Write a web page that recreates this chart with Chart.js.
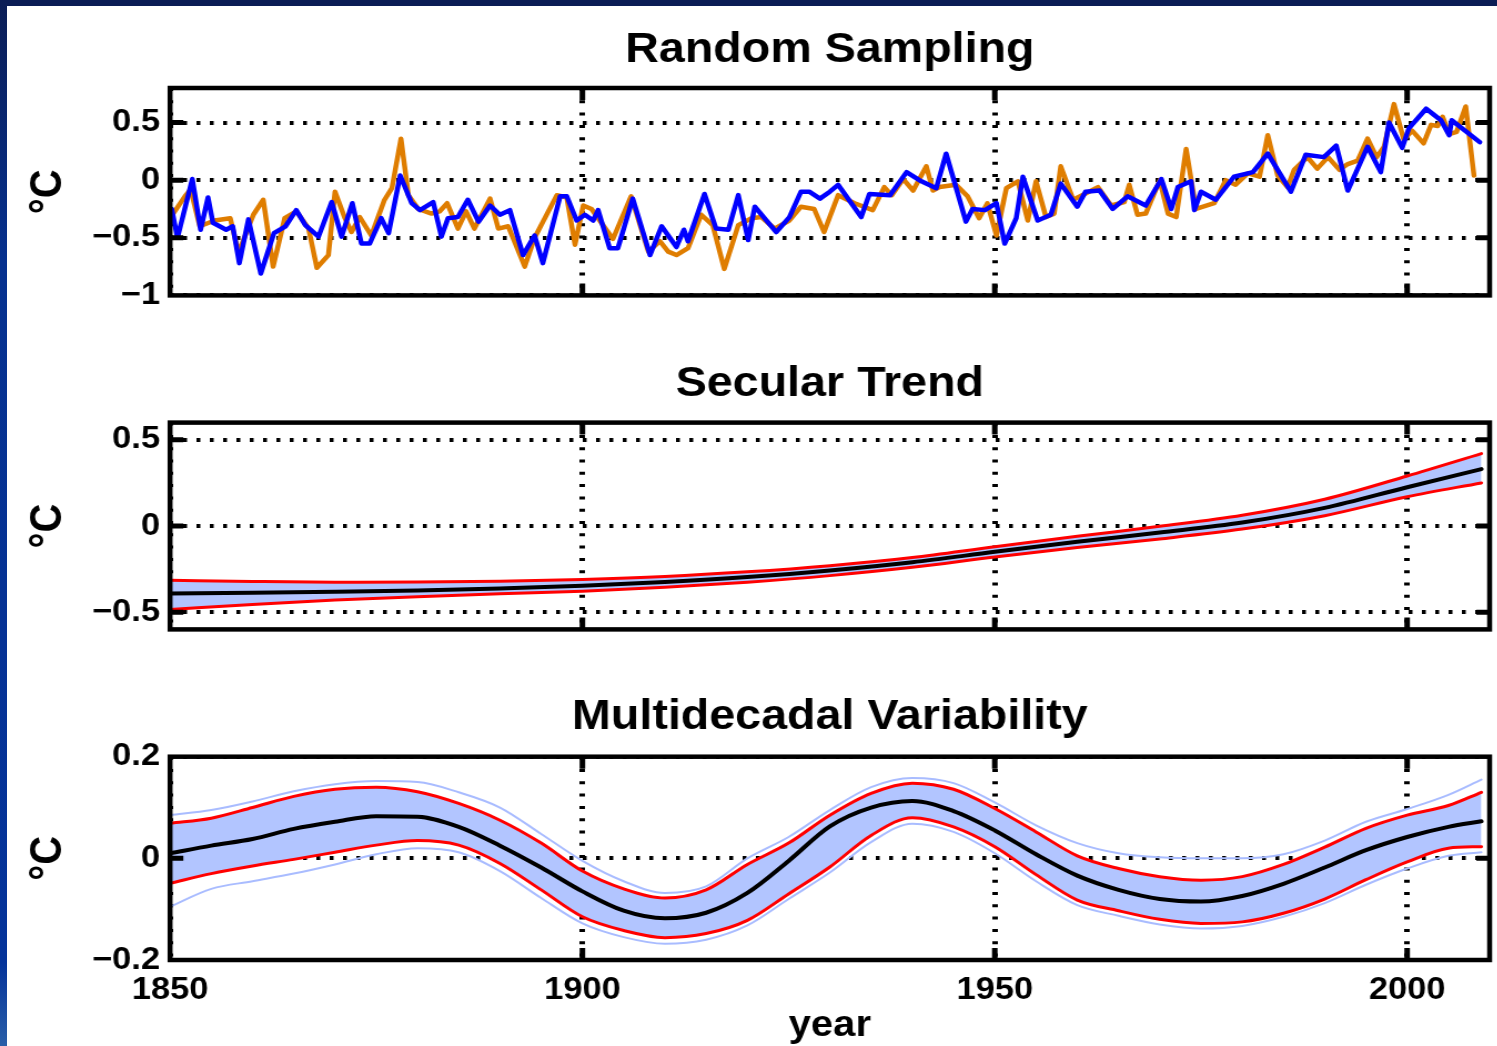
<!DOCTYPE html>
<html>
<head>
<meta charset="utf-8">
<script src="https://cdn.jsdelivr.net/npm/chart.js@4/dist/chart.umd.min.js"></script>
<style>
  html, body { margin: 0; padding: 0; background: #fff; }
  #page { position: relative; width: 1497px; height: 1046px; overflow: hidden; background: #fff; }
  #topbar { position: absolute; left: 0; top: 0; width: 1497px; height: 6px; background: #0b1d55; }
  #leftbar { position: absolute; left: 0; top: 0; width: 7px; height: 1046px;
             background: linear-gradient(#0b1d55, #06318f 25%, #04339a 92%, #2a5fa8); }
  .panel { position: absolute; left: 0; width: 1349px; transform: scaleX(1.11); transform-origin: 0 0; }
  canvas { display: block; }
</style>
</head>
<body>
<div id="page">
  <div id="topbar"></div>
  <div id="leftbar"></div>
  <div class="panel" style="top:0px"><canvas id="sampling" width="1349" height="325"></canvas></div>
  <div class="panel" style="top:330px"><canvas id="trend" width="1349" height="330"></canvas></div>
  <div class="panel" style="top:660px"><canvas id="variability" width="1349" height="386"></canvas></div>
</div>
<script>
// ---- axis ticks ----
const yearTicks = [1850, 1900, 1950, 2000];
const samplingTicks = [-1, -0.5, 0, 0.5];
const trendTicks = [-0.5, 0, 0.5];
const variabilityTicks = [-0.2, 0, 0.2];

// ---- Random Sampling: observed annual anomalies (orange) ----
const obsYears = [1850.2,1851.8,1852.5,1853.6,1855.4,1857.3,1858.3,1860.1,1861.3,1862.5,1863.9,1865.3,1866.8,1867.8,1869.2,1870.0,1871.2,1872.0,1873.0,1874.4,1876.0,1876.9,1878.0,1878.9,1880.1,1881.7,1882.7,1883.6,1884.9,1885.9,1886.9,1888.8,1889.8,1891.0,1893.0,1894.2,1896.9,1898.1,1899.1,1900.1,1901.1,1903.7,1905.9,1908.0,1909.4,1910.4,1911.4,1912.8,1914.4,1915.8,1917.2,1918.9,1920.5,1921.7,1923.3,1925.1,1926.5,1928.1,1929.3,1931.0,1933.0,1935.2,1936.6,1937.5,1938.9,1940.1,1941.7,1942.5,1943.3,1945.3,1946.7,1948.1,1949.1,1950.2,1951.4,1952.8,1954.0,1955.0,1956.2,1957.2,1958.0,1959.5,1960.9,1962.5,1964.1,1965.7,1966.3,1967.3,1968.3,1970.0,1971.0,1972.0,1973.2,1974.4,1976.6,1978.0,1979.2,1980.7,1982.1,1983.1,1984.3,1985.5,1986.3,1987.9,1989.1,1990.4,1991.8,1992.8,1994.0,1995.2,1996.3,1997.2,1998.4,1999.6,2000.6,2002.0,2002.9,2003.7,2004.3,2005.1,2006.0,2007.1,2008.1];
const obsTemps = [-0.31,-0.14,-0.08,-0.40,-0.35,-0.33,-0.63,-0.30,-0.17,-0.75,-0.33,-0.27,-0.42,-0.76,-0.65,-0.10,-0.33,-0.45,-0.32,-0.48,-0.17,-0.07,0.36,-0.13,-0.25,-0.29,-0.27,-0.20,-0.42,-0.27,-0.42,-0.16,-0.42,-0.40,-0.75,-0.50,-0.13,-0.15,-0.56,-0.22,-0.25,-0.51,-0.14,-0.62,-0.53,-0.62,-0.65,-0.59,-0.30,-0.39,-0.77,-0.39,-0.33,-0.32,-0.42,-0.35,-0.23,-0.25,-0.45,-0.13,-0.20,-0.26,-0.06,-0.13,0.01,-0.09,0.12,-0.09,-0.06,-0.04,-0.14,-0.33,-0.20,-0.48,-0.07,-0.01,-0.35,-0.01,-0.32,-0.29,0.12,-0.17,-0.12,-0.06,-0.22,-0.19,-0.04,-0.30,-0.29,0.00,-0.29,-0.32,0.27,-0.25,-0.20,0.00,-0.04,0.06,0.03,0.39,0.04,-0.06,0.09,0.20,0.10,0.20,0.09,0.14,0.17,0.36,0.20,0.29,0.66,0.35,0.43,0.32,0.48,0.47,0.55,0.40,0.42,0.64,0.04];

// ---- Random Sampling: one resampled realisation (blue) ----
const simYears = [1850.2,1850.9,1852.7,1853.7,1854.6,1855.2,1856.8,1857.6,1858.4,1859.5,1861.0,1862.6,1864.0,1865.3,1866.4,1868.0,1869.6,1870.8,1872.1,1873.2,1874.2,1875.6,1876.5,1877.9,1879.3,1880.3,1881.9,1882.9,1883.7,1884.9,1886.1,1887.4,1888.8,1890.0,1891.2,1892.8,1894.2,1895.2,1897.3,1898.1,1899.3,1900.3,1901.3,1901.9,1903.3,1904.3,1906.1,1908.2,1909.6,1911.4,1912.3,1912.8,1914.8,1916.2,1917.7,1918.9,1920.1,1920.9,1923.5,1925.1,1926.5,1927.5,1928.8,1930.0,1931.0,1933.8,1934.8,1937.3,1939.3,1941.1,1942.9,1944.1,1946.5,1947.3,1948.8,1950.2,1951.2,1952.6,1953.4,1955.2,1956.8,1958.0,1960.0,1961.0,1962.7,1964.3,1966.1,1968.3,1970.2,1971.4,1972.2,1973.8,1974.2,1975.0,1976.8,1979.0,1981.3,1983.1,1985.9,1987.7,1989.9,1991.4,1992.8,1995.2,1996.8,1997.8,1999.4,2000.2,2002.3,2004.1,2005.1,2005.4,2008.8];
const simTemps = [-0.25,-0.50,0.01,-0.43,-0.15,-0.37,-0.43,-0.40,-0.72,-0.34,-0.81,-0.46,-0.40,-0.26,-0.39,-0.49,-0.19,-0.49,-0.20,-0.55,-0.55,-0.33,-0.46,0.04,-0.20,-0.26,-0.19,-0.49,-0.33,-0.32,-0.17,-0.36,-0.22,-0.30,-0.26,-0.65,-0.48,-0.72,-0.14,-0.14,-0.35,-0.30,-0.35,-0.26,-0.59,-0.59,-0.16,-0.65,-0.40,-0.58,-0.43,-0.53,-0.12,-0.42,-0.43,-0.13,-0.52,-0.23,-0.45,-0.32,-0.10,-0.10,-0.16,-0.10,-0.04,-0.32,-0.12,-0.13,0.07,-0.01,-0.07,0.23,-0.36,-0.25,-0.26,-0.20,-0.55,-0.33,0.03,-0.35,-0.30,-0.03,-0.23,-0.10,-0.09,-0.25,-0.14,-0.22,0.01,-0.25,-0.06,-0.01,-0.26,-0.10,-0.17,0.03,0.07,0.23,-0.10,0.22,0.20,0.30,-0.09,0.29,0.07,0.50,0.28,0.45,0.62,0.52,0.39,0.52,0.33];

// ---- Secular Trend ----
const trendYears = [1850,1860,1870,1880,1890,1900,1910,1920,1930,1940,1950,1960,1970,1980,1990,2000,2009];
const trendMean  = [-0.392,-0.388,-0.382,-0.374,-0.362,-0.347,-0.325,-0.296,-0.258,-0.210,-0.150,-0.092,-0.038,0.020,0.105,0.225,0.330];
const trendUpper = [-0.315,-0.322,-0.326,-0.325,-0.320,-0.310,-0.293,-0.266,-0.230,-0.183,-0.120,-0.060,-0.002,0.062,0.155,0.290,0.420];
const trendLower = [-0.484,-0.455,-0.430,-0.410,-0.393,-0.378,-0.356,-0.326,-0.288,-0.240,-0.180,-0.125,-0.075,-0.018,0.060,0.170,0.250];

// ---- Multidecadal Variability ----
const mdvYears = [1850,1855,1860,1865,1870,1875,1880,1885,1890,1895,1900,1905,1910,1915,1920,1925,1930,1935,1940,1945,1950,1955,1960,1965,1970,1975,1980,1985,1990,1995,2000,2005,2009];
const mdvMean  = [0.010,0.025,0.038,0.058,0.072,0.083,0.082,0.062,0.025,-0.018,-0.065,-0.103,-0.118,-0.107,-0.068,-0.005,0.063,0.100,0.113,0.093,0.055,0.008,-0.034,-0.062,-0.080,-0.085,-0.074,-0.050,-0.018,0.016,0.042,0.062,0.073];
const mdvUpper = [0.069,0.079,0.100,0.122,0.136,0.140,0.131,0.108,0.075,0.030,-0.025,-0.060,-0.078,-0.062,-0.012,0.030,0.085,0.128,0.148,0.136,0.098,0.052,0.005,-0.020,-0.036,-0.043,-0.036,-0.012,0.022,0.059,0.085,0.104,0.130];
const mdvLower = [-0.049,-0.030,-0.015,-0.002,0.012,0.026,0.035,0.026,-0.010,-0.062,-0.115,-0.142,-0.156,-0.148,-0.122,-0.070,-0.017,0.045,0.080,0.062,0.023,-0.032,-0.082,-0.103,-0.120,-0.128,-0.125,-0.108,-0.080,-0.042,-0.007,0.020,0.023];
const mdvOuterHi = [0.085,0.095,0.112,0.132,0.146,0.152,0.150,0.130,0.100,0.048,-0.005,-0.045,-0.068,-0.055,0.000,0.042,0.095,0.140,0.158,0.148,0.110,0.065,0.030,0.010,0.002,0.000,0.000,0.008,0.035,0.072,0.097,0.125,0.155];
const mdvOuterLo = [-0.095,-0.060,-0.045,-0.030,-0.012,0.008,0.020,0.012,-0.025,-0.078,-0.128,-0.155,-0.168,-0.160,-0.132,-0.080,-0.028,0.032,0.068,0.052,0.010,-0.045,-0.092,-0.113,-0.130,-0.138,-0.133,-0.115,-0.088,-0.052,-0.020,0.005,0.012];

// ---- styling ----
const FONT = '"Liberation Sans", Arial, Helvetica, sans-serif';
const ORANGE = '#df7d00';
const BLUE = '#0000ff';
const RED = '#ff0000';
const BAND = '#b2c5ff';
const THIN = '#a9bcff';

const pts = (xs, ys) => xs.map((x, i) => ({ x, y: ys[i] }));
const signed = v => (v < 0 ? '\u2212' + Math.abs(v) : String(v));

// heavy axes box with inward tick marks
const framePlugin = {
  id: 'frame',
  afterDatasetsDraw(chart) {
    const { ctx, chartArea: a, scales: { x, y } } = chart;
    const tick = 12;
    ctx.save();
    ctx.strokeStyle = '#000';
    ctx.lineCap = 'butt';
    ctx.lineWidth = 5;
    x.ticks.forEach(t => {
      const px = x.getPixelForValue(t.value);
      if (px <= a.left + 2 || px >= a.right - 2) return;
      ctx.beginPath();
      ctx.moveTo(px, a.top); ctx.lineTo(px, a.top + tick);
      ctx.moveTo(px, a.bottom); ctx.lineTo(px, a.bottom - tick);
      ctx.stroke();
    });
    y.ticks.forEach(t => {
      const py = y.getPixelForValue(t.value);
      if (py <= a.top + 2 || py >= a.bottom - 2) return;
      ctx.beginPath();
      ctx.moveTo(a.left, py); ctx.lineTo(a.left + tick, py);
      ctx.moveTo(a.right, py); ctx.lineTo(a.right - tick, py);
      ctx.stroke();
    });
    ctx.lineWidth = 4.5;
    ctx.strokeRect(a.left, a.top, a.right - a.left, a.bottom - a.top);
    ctx.restore();
  }
};

function makeChart(id, spec) {
  return new Chart(document.getElementById(id), {
    type: 'line',
    data: { datasets: spec.datasets },
    options: {
      responsive: false,
      animation: false,
      devicePixelRatio: 1,
      events: [],
      layout: { padding: { left: 0, right: 7, top: 0, bottom: 0 } },
      elements: { point: { radius: 0 }, line: { borderJoinStyle: 'round', borderCapStyle: 'round' } },
      plugins: {
        legend: { display: false },
        tooltip: { enabled: false },
        filler: { drawTime: 'beforeDatasetsDraw' },
        title: {
          display: true, text: spec.title, fullSize: false, color: '#000',
          font: { family: FONT, size: 42, weight: 'bold' },
          padding: spec.titlePad
        }
      },
      scales: {
        x: {
          type: 'linear', min: 1850, max: 2010,
          afterBuildTicks: s => { s.ticks = yearTicks.map(v => ({ value: v })); },
          afterFit: s => { s.height = spec.xHeight; },
          grid: { color: '#000', lineWidth: 5, drawTicks: false },
          border: { display: false, dash: [3, 9.3] },
          ticks: {
            display: spec.showX, color: '#000', padding: 11.4,
            font: { family: FONT, size: 31, weight: 'bold' },
            callback: v => String(v)
          },
          title: {
            display: spec.showX, text: 'year', color: '#000',
            font: { family: FONT, size: 36, weight: 'bold' },
            padding: { top: 0, bottom: -2 }
          }
        },
        y: {
          min: spec.yMin, max: spec.yMax,
          afterBuildTicks: s => { s.ticks = spec.yTicks.map(v => ({ value: v })); },
          afterFit: s => { s.width = 153.2; },
          grid: { color: '#000', lineWidth: 4, drawTicks: false },
          border: { display: false, dash: [3.5, 8.5] },
          ticks: {
            color: '#000', padding: 9,
            font: { family: FONT, size: 31, weight: 'bold' },
            callback: v => signed(v)
          },
          title: {
            display: true, text: '°C', color: '#000',
            font: { family: FONT, size: 40, weight: 'bold' },
            padding: { top: 20, bottom: 0 }
          }
        }
      }
    },
    plugins: [framePlugin]
  });
}

const smooth = { cubicInterpolationMode: 'monotone', pointRadius: 0 };

makeChart('sampling', {
  title: 'Random Sampling',
  titlePad: { top: 24.8, bottom: 12.8 },
  xHeight: 29.6, showX: false,
  yMin: -1, yMax: 0.8, yTicks: samplingTicks,
  datasets: [
    { label: 'resampled', data: pts(simYears, simTemps), borderColor: BLUE, borderWidth: 4.5, order: 0, fill: false },
    { label: 'observed', data: pts(obsYears, obsTemps), borderColor: ORANGE, borderWidth: 4.5, order: 1, fill: false }
  ]
});

makeChart('trend', {
  title: 'Secular Trend',
  titlePad: { top: 28.8, bottom: 13.4 },
  xHeight: 30.6, showX: false,
  yMin: -0.6, yMax: 0.6, yTicks: trendTicks,
  datasets: [
    { label: 'mean', data: pts(trendYears, trendMean), borderColor: '#000', borderWidth: 4, order: 0, fill: false, ...smooth },
    { label: 'upper', data: pts(trendYears, trendUpper), borderColor: RED, borderWidth: 3, order: 1, fill: '+1', backgroundColor: BAND, ...smooth },
    { label: 'lower', data: pts(trendYears, trendLower), borderColor: RED, borderWidth: 3, order: 1, fill: false, ...smooth }
  ]
});

makeChart('variability', {
  title: 'Multidecadal Variability',
  titlePad: { top: 31.8, bottom: 14.5 },
  xHeight: 86, showX: true,
  yMin: -0.2, yMax: 0.2, yTicks: variabilityTicks,
  datasets: [
    { label: 'mean', data: pts(mdvYears, mdvMean), borderColor: '#000', borderWidth: 4, order: 0, fill: false, ...smooth },
    { label: 'upper', data: pts(mdvYears, mdvUpper), borderColor: RED, borderWidth: 3, order: 1, fill: '+1', backgroundColor: BAND, ...smooth },
    { label: 'lower', data: pts(mdvYears, mdvLower), borderColor: RED, borderWidth: 3, order: 1, fill: false, ...smooth },
    { label: 'ensemble high', data: pts(mdvYears, mdvOuterHi), borderColor: THIN, borderWidth: 2, order: 2, fill: false, ...smooth },
    { label: 'ensemble low', data: pts(mdvYears, mdvOuterLo), borderColor: THIN, borderWidth: 2, order: 2, fill: false, ...smooth }
  ]
});
</script>
</body>
</html>
